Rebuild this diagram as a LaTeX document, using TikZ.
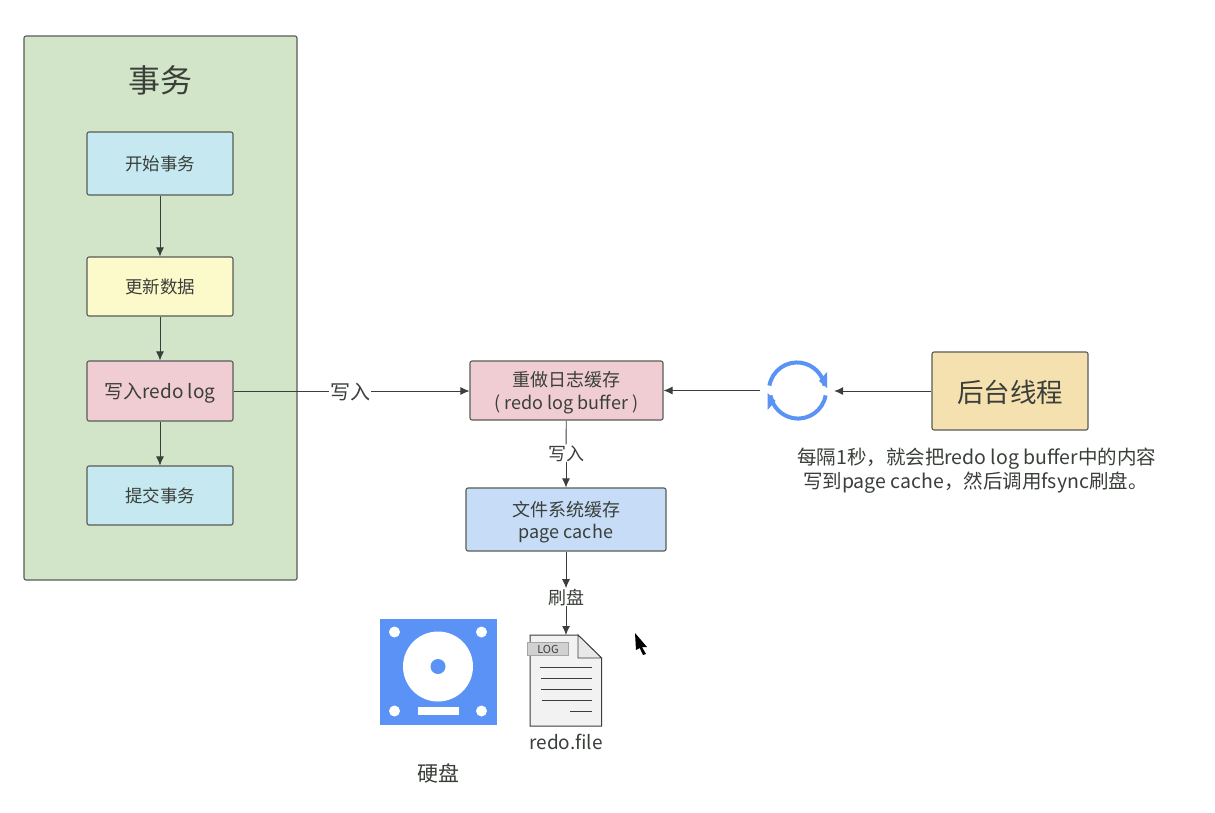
\documentclass[tikz,border=0pt]{standalone}
\usepackage{fontspec}
\setmainfont{Noto Sans CJK SC}
\usetikzlibrary{arrows.meta}
\definecolor{panelgreen}{HTML}{D2E5C9}
\definecolor{boxblue}{HTML}{C6E8F0}
\definecolor{boxyellow}{HTML}{FCFACB}
\definecolor{boxred}{HTML}{F0CDD2}
\definecolor{boxcache}{HTML}{C6DCF7}
\definecolor{boxtan}{HTML}{F5E0B0}
\definecolor{diskblue}{HTML}{5B92F5}
\definecolor{inkgray}{HTML}{3A3F3A}
\tikzset{
  flowbox/.style={draw=inkgray!85,line width=1.1pt,rounded corners=2pt,align=center,text=inkgray,font=\fontsize{17.5}{23}\selectfont,inner sep=0pt,text depth=0pt},
  flowarrow/.style={draw=inkgray,line width=0.9pt,-{Latex[length=9pt,width=8pt]}},
  flowlabel/.style={text=inkgray,inner sep=1pt,text depth=0pt,font=\fontsize{18}{21}\selectfont},
  logline/.style={draw=inkgray,line width=0.9pt}
}
\begin{document}
\begin{tikzpicture}[x=1pt,y=-1pt]
\useasboundingbox[fill=white] (0,0) rectangle (1215,812);
% left panel
\node (panel) [flowbox,fill=panelgreen,minimum width=273pt,minimum height=544pt] at (160.5,308) {};
\node (title) [text=inkgray,font=\fontsize{32}{36}\selectfont,inner sep=0pt] at (160,80) {事务};
\node (begintx) [flowbox,fill=boxblue,minimum width=146pt,minimum height=63pt] at (160,163.5) {开始事务};
\node (update) [flowbox,fill=boxyellow,minimum width=146pt,minimum height=59pt] at (160,286.5) {更新数据};
\node (writelog) [flowbox,fill=boxred,minimum width=146pt,minimum height=60pt,font=\fontsize{19}{21}\selectfont] at (160,391) {写入redo log};
\node (commit) [flowbox,fill=boxblue,minimum width=146pt,minimum height=59pt] at (160,495.5) {提交事务};
% middle
\node (logbuffer) [flowbox,fill=boxred,minimum width=193pt,minimum height=59pt,font=\fontsize{18}{23}\selectfont] at (566.5,390.5) {重做日志缓存\\( redo log buffer )};
\node (pagecache) [flowbox,fill=boxcache,minimum width=200pt,minimum height=63pt,font=\fontsize{18}{22}\selectfont] at (566,519.5) {文件系统缓存\\page cache};
% right
\node (thread) [flowbox,fill=boxtan,minimum width=156pt,minimum height=78pt,font=\fontsize{26.5}{30}\selectfont] at (1010,391) {后台线程};
\node (sync) [circle,minimum size=74pt,inner sep=0pt] at (797,390.5) {};
\draw [diskblue,line width=4pt] (769.4,385.6) arc (190:350:28);
\draw [diskblue,line width=4pt] (825.6,395.4) arc (10:170:28);
\fill [diskblue] (827,372) -- (827,388) -- (819,381) -- cycle;
\fill [diskblue] (767.5,410) -- (767.5,393) -- (775.5,401) -- cycle;
\node (note) [text=inkgray,font=\fontsize{19.5}{24}\selectfont,align=left,inner sep=0pt,anchor=north west] at (797,448) {每隔1秒，就会把redo log buffer中的内容\\\hspace*{6pt}写到page cache，然后调用fsync刷盘。};
% labels on the connectors
\node (lwrite) [flowlabel,font=\fontsize{20}{24}\selectfont] at (350,391) {写入};
\node (lwrite2) [flowlabel] at (566,453) {写入};
\node (lflush) [flowlabel] at (566,597) {刷盘};
% disk
\fill [diskblue] (380,619) rectangle (496.5,724.5);
\fill [white] (394.5,632) circle (5.5);
\fill [white] (481.5,632) circle (5.5);
\fill [white] (394.5,711) circle (5.5);
\fill [white] (481.5,711) circle (5.5);
\fill [white] (438,666.5) circle (35);
\fill [diskblue] (438,666.5) circle (7.5);
\fill [white] (417.5,707) rectangle (458.5,715);
\node (ldisk) [text=inkgray,font=\fontsize{21}{25}\selectfont,inner sep=0pt] at (438.5,773) {硬盘};
% log file
\draw [inkgray,line width=1pt,fill=black!5] (530,635) -- (578,635) -- (601.5,658) -- (601.5,726) -- (530,726) -- cycle;
\draw [inkgray,line width=0.8pt,fill=black!9] (578,635) -- (578,658) -- (601.5,658) -- cycle;
\node (logtag) [draw=black!35,fill=black!18,text=inkgray,minimum width=41pt,minimum height=13pt,inner sep=0pt,font=\fontsize{11}{12}\selectfont] at (548,649) {LOG};
\coordinate (filetop) at (566,635);
\draw [logline] (540,667) -- (592,667);
\draw [logline] (541,678) -- (592,678);
\draw [logline] (541,689) -- (592,689);
\draw [logline] (542,700.5) -- (592,700.5);
\draw [logline] (570,711) -- (592,711);
\node (lfile) [text=inkgray,font=\fontsize{19}{23}\selectfont,inner sep=0pt] at (566,742) {redo.file};
% mouse pointer
\fill [black] (635,633) -- (647,647) -- (642,647) -- (646,654) -- (643,655) -- (639.7,648) -- (636,650) -- cycle;
% connectors
\draw [flowarrow] (begintx) -- (update);
\draw [flowarrow] (update) -- (writelog);
\draw [flowarrow] (writelog) -- (commit);
\draw [inkgray,line width=0.9pt] (writelog) -- (lwrite);
\draw [flowarrow] (lwrite) -- (lwrite -| logbuffer.west);
\draw [flowarrow] (sync.west |- logbuffer) -- (logbuffer);
\draw [flowarrow] (thread) -- (sync.east |- thread);
\draw [inkgray,line width=0.9pt] (logbuffer) -- (lwrite2);
\draw [flowarrow] (lwrite2) -- (pagecache);
\draw [flowarrow] (pagecache) -- (lflush);
\draw [flowarrow] (lflush) -- (filetop);
\end{tikzpicture}
\end{document}
